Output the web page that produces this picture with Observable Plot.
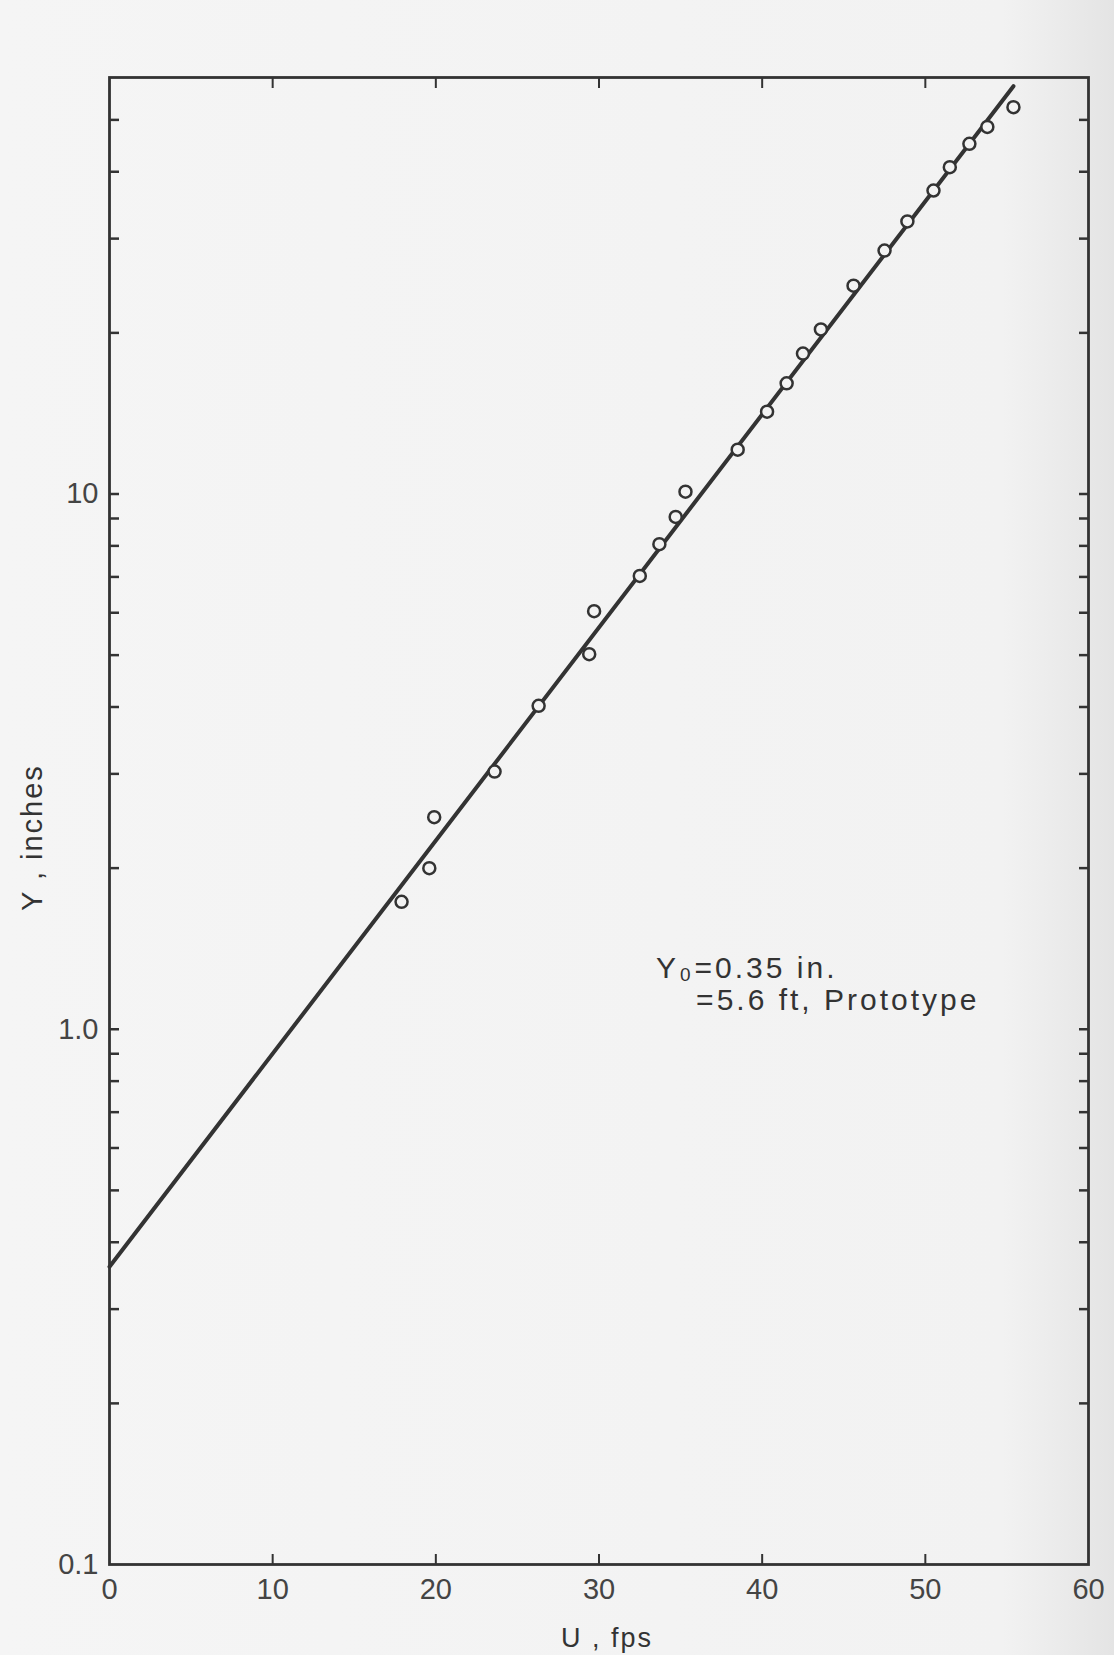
<!DOCTYPE html>
<html>
<head>
<meta charset="utf-8">
<script src="https://cdn.jsdelivr.net/npm/d3@7"></script>
<script src="https://cdn.jsdelivr.net/npm/@observablehq/plot@0.6"></script>
<style>
  html, body { margin: 0; padding: 0; }
  body {
    width: 1114px; height: 1655px; overflow: hidden;
    background: linear-gradient(to right, #f5f5f5 0%, #f2f2f2 90%, #e4e4e4 100%);
  }
  #chart svg { display: block; }
  .annot text { letter-spacing: 3px; }
  .atitle text { letter-spacing: 2px; }
</style>
</head>
<body>
<div id="chart"></div>
<script>
// ---- data ----
const uValues = [17.9, 19.6, 19.9, 23.6, 26.3, 29.4, 29.7, 32.5, 33.7, 34.7, 35.3, 38.5,
                 40.3, 41.5, 42.5, 43.6, 45.6, 47.5, 48.9, 50.5, 51.5, 52.7, 53.8, 55.4];
const yValues = [1.73, 2.00, 2.49, 3.03, 4.02, 5.02, 6.04, 7.03, 8.06, 9.06, 10.1, 12.1,
                 14.25, 16.1, 18.3, 20.3, 24.5, 28.5, 32.3, 36.9, 40.8, 45.1, 48.5, 52.8];
const fitU = [0, 55.4];
const fitY = [0.36, 57.8];
const xTickValues = [0, 10, 20, 30, 40, 50, 60];
const xInnerTicks = [10, 20, 30, 40, 50];
const yLabelValues = [0.1, 1, 10];
const yLabelTexts = ["0.1", "1.0", "10"];
const yMinorTicks = [0.2, 0.3, 0.4, 0.5, 0.6, 0.7, 0.8, 0.9,
                     1, 2, 3, 4, 5, 6, 7, 8, 9,
                     10, 20, 30, 40, 50];
const xTitle = "U , fps";
const yTitle = "Y , inches";
const annotLine1 = "Y\u2080=0.35 in.";
const annotLine2 = "=5.6 ft, Prototype";
const annotAt = {u: 33.5, y: 1.30};

const points = uValues.map((u, i) => ({u, y: yValues[i]}));
const fit = fitU.map((u, i) => ({u, y: fitY[i]}));

const ink = "#333";
const paper = "#f3f3f3";
const labelFont = "'Liberation Sans', Arial, sans-serif";

const plot = Plot.plot({
  width: 1114,
  height: 1655,
  marginLeft: 109,
  marginRight: 26,
  marginTop: 77,
  marginBottom: 91,
  style: {background: "transparent", fontFamily: labelFont, color: ink},
  x: {domain: [0, 60]},
  y: {type: "log", domain: [0.1, 60]},
  marks: [
    // inward tick marks on all four sides
    Plot.axisY(yMinorTicks, {anchor: "left", tickSize: 10, dx: 10, fill: "none", label: null, stroke: ink, strokeWidth: 2.5}),
    Plot.axisY(yMinorTicks, {anchor: "right", tickSize: 10, dx: -10, fill: "none", label: null, stroke: ink, strokeWidth: 2.5}),
    Plot.axisX(xInnerTicks, {anchor: "bottom", tickSize: 10, dy: -10, fill: "none", label: null, stroke: ink, strokeWidth: 2}),
    Plot.axisX(xInnerTicks, {anchor: "top", tickSize: 10, dy: 10, fill: "none", label: null, stroke: ink, strokeWidth: 2}),
    // tick labels
    Plot.axisY(yLabelValues, {anchor: "left", tickSize: 0, tickPadding: 11, label: null,
      tickFormat: d => yLabelTexts[yLabelValues.indexOf(d)], fontSize: 29, fill: "#444"}),
    Plot.axisX(xTickValues, {anchor: "bottom", tickSize: 0, tickPadding: 14, label: null,
      fontSize: 29, fill: "#444"}),
    // frame
    Plot.frame({stroke: ink, strokeWidth: 2.8}),
    // fitted line
    Plot.line(fit, {x: "u", y: "y", stroke: ink, strokeWidth: 4}),
    // observations
    Plot.dot(points, {x: "u", y: "y", r: 6, stroke: ink, strokeWidth: 2.5, fill: paper}),
    // annotation
    Plot.text([annotAt], {x: "u", y: "y", text: () => annotLine1, textAnchor: "start",
      lineAnchor: "middle", fontSize: 30, fill: ink, className: "annot"}),
    Plot.text([annotAt], {x: "u", y: "y", text: () => annotLine2, textAnchor: "start",
      lineAnchor: "middle", dx: 40, dy: 32, fontSize: 30, fill: ink, className: "annot"}),
    // axis titles
    Plot.text([yTitle], {frameAnchor: "left", dx: -77, dy: 90, rotate: -90,
      lineAnchor: "middle", fontSize: 29, fill: ink, className: "atitle"}),
    Plot.text([xTitle], {frameAnchor: "bottom", dx: 8, dy: 74,
      lineAnchor: "middle", fontSize: 27, fill: ink, className: "atitle"})
  ]
});

document.getElementById("chart").appendChild(plot);
</script>
</body>
</html>
